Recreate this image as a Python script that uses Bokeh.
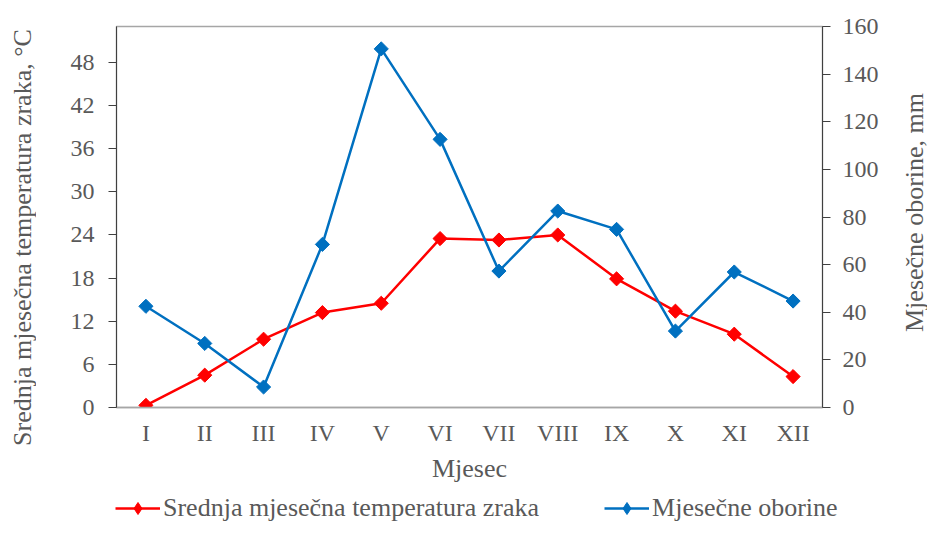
import numpy as np
from bokeh.plotting import figure
from bokeh.layouts import column, row
from bokeh.models import Range1d, LinearAxis, FixedTicker, Legend, LegendItem, FactorRange, Label
from bokeh.embed import file_html
from bokeh.resources import INLINE

months = ["I", "II", "III", "IV", "V", "VI", "VII", "VIII", "IX", "X", "XI", "XII"]
temperature = [0.3, 4.5, 9.5, 13.2, 14.5, 23.5, 23.3, 24.0, 17.9, 13.4, 10.2, 4.3]
precipitation = [42.5, 26.9, 8.6, 68.5, 150.6, 112.6, 57.3, 82.5, 74.8, 32.1, 56.9, 44.7]
left_ticks = [0, 6, 12, 18, 24, 30, 36, 42, 48]
right_ticks = [0, 20, 40, 60, 80, 100, 120, 140, 160]

FONT = "Liberation Serif"
TXT = "#595959"
FS = "24px"
TS = "26px"
RED = "#FF0000"
BLUE = "#0070C0"

MAIN_H = 493
LT_W = 36
RT_W = 27


def strip(width, height, x_range=None, y_range=None):
    f = figure(width=width, height=height,
               x_range=x_range if x_range is not None else Range1d(0, 1),
               y_range=y_range if y_range is not None else Range1d(0, 1),
               x_axis_type=None, y_axis_type=None, output_backend="svg",
               toolbar_location=None, min_border=0, min_border_left=0,
               min_border_right=0, min_border_top=0, min_border_bottom=0)
    f.outline_line_color = None
    f.xgrid.visible = False
    f.ygrid.visible = False
    if "frame_align" in f.properties():
        f.frame_align = False
    return f


p = figure(x_range=months, y_range=Range1d(0, 53), width=927 - LT_W - RT_W, height=MAIN_H,
           output_backend="svg", toolbar_location=None,
           min_border_left=116 - LT_W, min_border_right=(927 - RT_W) - 822,
           min_border_top=26, min_border_bottom=MAIN_H - 407)
if "frame_align" in p.properties():
    p.frame_align = False
p.extra_y_ranges = {"prec": Range1d(0, 160)}
p.xgrid.visible = False
p.ygrid.visible = False
p.outline_line_color = "#a6a6a6"
p.outline_line_width = 1.5

ra = LinearAxis(y_range_name="prec", ticker=FixedTicker(ticks=right_ticks))
p.add_layout(ra, "right")

for ax in [p.xaxis[0], p.yaxis[0], ra]:
    ax.major_label_text_font = FONT
    ax.major_label_text_font_size = FS
    ax.major_label_text_color = TXT
    ax.axis_label_text_font = FONT
    ax.axis_label_text_font_size = TS
    ax.axis_label_text_color = TXT
    ax.axis_label_text_font_style = "normal"
    ax.minor_tick_line_color = None

xa = p.xaxis[0]
xa.axis_label = "Mjesec"
xa.major_tick_line_color = None
xa.major_tick_out = 0
xa.major_tick_in = 0
xa.axis_line_color = "#a6a6a6"
xa.axis_line_width = 1.5
xa.major_label_standoff = 12
xa.axis_label_standoff = 5

ya = p.yaxis[0]
ya.ticker = FixedTicker(ticks=left_ticks)
ya.axis_line_color = "#404040"
ya.major_tick_line_color = "#404040"
ya.major_tick_out = 8
ya.major_tick_in = 0
ya.major_label_standoff = 14

ra.axis_line_color = "#404040"
ra.major_tick_line_color = "#404040"
ra.major_tick_out = 8
ra.major_tick_in = 0
ra.major_label_standoff = 12

p.line(months, temperature, line_color=RED, line_width=2.5)
p.scatter(months, temperature, marker="square", angle=np.pi / 4, size=10,
          fill_color=RED, line_color=RED)
p.line(months, precipitation, line_color=BLUE, line_width=2.5, y_range_name="prec")
p.scatter(months, precipitation, marker="square", angle=np.pi / 4, size=10,
          fill_color=BLUE, line_color=BLUE, y_range_name="prec")

# axis titles in narrow side strips (both read bottom-to-top)
lt = strip(LT_W, MAIN_H)
lt.add_layout(Label(x=22, y=MAIN_H - 237, x_units="screen", y_units="screen",
                    text="Srednja mjesečna temperatura zraka, °C", angle=np.pi / 2,
                    text_align="center", text_baseline="middle",
                    text_font=FONT, text_font_size=TS, text_color=TXT))
rt = strip(RT_W, MAIN_H)
rt.add_layout(Label(x=RT_W / 2, y=MAIN_H - 212, x_units="screen", y_units="screen",
                    text="Mjesečne oborine, mm", angle=np.pi / 2,
                    text_align="center", text_baseline="middle",
                    text_font=FONT, text_font_size=TS, text_color=TXT))

# legend strip below the chart (its own renderers lie outside its visible range)
lg = strip(927, 523 - MAIN_H, x_range=FactorRange(factors=months), y_range=Range1d(1000, 1001))
r1 = lg.line(months, temperature, line_color=RED, line_width=2.5)
s1 = lg.scatter(months, temperature, marker="diamond", size=15,
                fill_color=RED, line_color=RED)
r2 = lg.line(months, precipitation, line_color=BLUE, line_width=2.5)
s2 = lg.scatter(months, precipitation, marker="diamond", size=15,
                fill_color=BLUE, line_color=BLUE)

legend = Legend(items=[
    LegendItem(label="Srednja mjesečna temperatura zraka", renderers=[r1, s1]),
    LegendItem(label="Mjesečne oborine", renderers=[r2, s2]),
], location=(115, 0), orientation="horizontal")
legend.label_text_font = FONT
legend.label_text_font_size = TS
legend.label_text_color = TXT
legend.border_line_color = None
legend.background_fill_alpha = 0
legend.glyph_width = 45
legend.glyph_height = 30
legend.label_standoff = 3
legend.label_height = 20
legend.spacing = 65
legend.padding = 0
legend.margin = 0
lg.add_layout(legend, "center")

layout = column(row(lt, p, rt, spacing=0), lg, spacing=0)
open("out.html", "w").write(file_html(layout, INLINE))
